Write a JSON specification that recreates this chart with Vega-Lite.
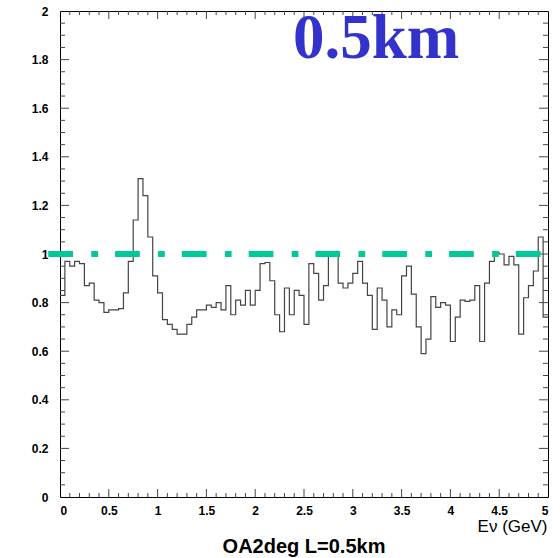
{
  "$schema": "https://vega.github.io/schema/vega-lite/v6.json",
  "width": 488,
  "height": 486,
  "autosize": {"type": "none"},
  "padding": {"left": 60, "top": 11, "right": 12, "bottom": 61},
  "background": "white",
  "config": {
    "view": {"stroke": "black", "strokeWidth": 1},
    "axis": {"grid": false, "domain": false, "labelFont": "Liberation Sans", "labelFontWeight": "bold", "labelFontSize": 12, "labelColor": "black", "titleFont": "Liberation Sans"}
  },
  "title": {"text": "OA2deg L=0.5km", "orient": "bottom", "anchor": "middle", "font": "Liberation Sans", "fontSize": 20, "fontWeight": "bold", "color": "black", "offset": 3},
  "datasets": {
    "hist": [
      {"E": 0.00, "ratio": 0.83}, {"E": 0.05, "ratio": 0.97}, {"E": 0.10, "ratio": 0.95}, {"E": 0.15, "ratio": 0.97}, {"E": 0.20, "ratio": 0.96},
      {"E": 0.25, "ratio": 0.87}, {"E": 0.30, "ratio": 0.88}, {"E": 0.35, "ratio": 0.81}, {"E": 0.40, "ratio": 0.80}, {"E": 0.45, "ratio": 0.76},
      {"E": 0.50, "ratio": 0.77}, {"E": 0.55, "ratio": 0.77}, {"E": 0.60, "ratio": 0.775}, {"E": 0.65, "ratio": 0.84}, {"E": 0.70, "ratio": 0.97},
      {"E": 0.75, "ratio": 1.14}, {"E": 0.80, "ratio": 1.31}, {"E": 0.85, "ratio": 1.24}, {"E": 0.90, "ratio": 1.07}, {"E": 0.95, "ratio": 0.91},
      {"E": 1.00, "ratio": 0.84}, {"E": 1.05, "ratio": 0.73}, {"E": 1.10, "ratio": 0.71}, {"E": 1.15, "ratio": 0.69}, {"E": 1.20, "ratio": 0.67},
      {"E": 1.25, "ratio": 0.67}, {"E": 1.30, "ratio": 0.71}, {"E": 1.35, "ratio": 0.74}, {"E": 1.40, "ratio": 0.77}, {"E": 1.45, "ratio": 0.77},
      {"E": 1.50, "ratio": 0.79}, {"E": 1.55, "ratio": 0.78}, {"E": 1.60, "ratio": 0.80}, {"E": 1.65, "ratio": 0.77}, {"E": 1.70, "ratio": 0.87},
      {"E": 1.75, "ratio": 0.75}, {"E": 1.80, "ratio": 0.81}, {"E": 1.85, "ratio": 0.79}, {"E": 1.90, "ratio": 0.85}, {"E": 1.95, "ratio": 0.79},
      {"E": 2.00, "ratio": 0.85}, {"E": 2.05, "ratio": 0.96}, {"E": 2.10, "ratio": 0.965}, {"E": 2.15, "ratio": 0.89}, {"E": 2.20, "ratio": 0.75},
      {"E": 2.25, "ratio": 0.68}, {"E": 2.30, "ratio": 0.86}, {"E": 2.35, "ratio": 0.75}, {"E": 2.40, "ratio": 0.85}, {"E": 2.45, "ratio": 0.83},
      {"E": 2.50, "ratio": 0.71}, {"E": 2.55, "ratio": 0.96}, {"E": 2.60, "ratio": 0.92}, {"E": 2.65, "ratio": 0.81}, {"E": 2.70, "ratio": 0.87},
      {"E": 2.75, "ratio": 1.0}, {"E": 2.80, "ratio": 1.0}, {"E": 2.85, "ratio": 0.88}, {"E": 2.90, "ratio": 0.86}, {"E": 2.95, "ratio": 0.88},
      {"E": 3.00, "ratio": 0.92}, {"E": 3.05, "ratio": 0.97}, {"E": 3.10, "ratio": 0.88}, {"E": 3.15, "ratio": 0.83}, {"E": 3.20, "ratio": 0.69},
      {"E": 3.25, "ratio": 0.86}, {"E": 3.30, "ratio": 0.81}, {"E": 3.35, "ratio": 0.70}, {"E": 3.40, "ratio": 0.77}, {"E": 3.45, "ratio": 0.75},
      {"E": 3.50, "ratio": 0.91}, {"E": 3.55, "ratio": 0.95}, {"E": 3.60, "ratio": 0.835}, {"E": 3.65, "ratio": 0.70}, {"E": 3.70, "ratio": 0.59},
      {"E": 3.75, "ratio": 0.65}, {"E": 3.80, "ratio": 0.825}, {"E": 3.85, "ratio": 0.78}, {"E": 3.90, "ratio": 0.80}, {"E": 3.95, "ratio": 0.79},
      {"E": 4.00, "ratio": 0.64}, {"E": 4.05, "ratio": 0.74}, {"E": 4.10, "ratio": 0.81}, {"E": 4.15, "ratio": 0.805}, {"E": 4.20, "ratio": 0.81},
      {"E": 4.25, "ratio": 0.87}, {"E": 4.30, "ratio": 0.64}, {"E": 4.35, "ratio": 0.88}, {"E": 4.40, "ratio": 0.97}, {"E": 4.45, "ratio": 1.005},
      {"E": 4.50, "ratio": 1.0}, {"E": 4.55, "ratio": 0.955}, {"E": 4.60, "ratio": 0.99}, {"E": 4.65, "ratio": 0.955}, {"E": 4.70, "ratio": 0.67},
      {"E": 4.75, "ratio": 0.82}, {"E": 4.80, "ratio": 0.87}, {"E": 4.85, "ratio": 0.93}, {"E": 4.90, "ratio": 1.07}, {"E": 4.95, "ratio": 0.74},
      {"E": 5.00, "ratio": 0.74}
    ],
    "xmaj": [{"E": 0.5}, {"E": 1}, {"E": 1.5}, {"E": 2}, {"E": 2.5}, {"E": 3}, {"E": 3.5}, {"E": 4}, {"E": 4.5}],
    "xmin": [{"E": 0.1}, {"E": 0.2}, {"E": 0.3}, {"E": 0.4}, {"E": 0.6}, {"E": 0.7}, {"E": 0.8}, {"E": 0.9},
             {"E": 1.1}, {"E": 1.2}, {"E": 1.3}, {"E": 1.4}, {"E": 1.6}, {"E": 1.7}, {"E": 1.8}, {"E": 1.9},
             {"E": 2.1}, {"E": 2.2}, {"E": 2.3}, {"E": 2.4}, {"E": 2.6}, {"E": 2.7}, {"E": 2.8}, {"E": 2.9},
             {"E": 3.1}, {"E": 3.2}, {"E": 3.3}, {"E": 3.4}, {"E": 3.6}, {"E": 3.7}, {"E": 3.8}, {"E": 3.9},
             {"E": 4.1}, {"E": 4.2}, {"E": 4.3}, {"E": 4.4}, {"E": 4.6}, {"E": 4.7}, {"E": 4.8}, {"E": 4.9}],
    "ymaj": [{"r": 0.2}, {"r": 0.4}, {"r": 0.6}, {"r": 0.8}, {"r": 1}, {"r": 1.2}, {"r": 1.4}, {"r": 1.6}, {"r": 1.8}],
    "ymin": [{"r": 0.05}, {"r": 0.1}, {"r": 0.15}, {"r": 0.25}, {"r": 0.3}, {"r": 0.35}, {"r": 0.45}, {"r": 0.5}, {"r": 0.55},
             {"r": 0.65}, {"r": 0.7}, {"r": 0.75}, {"r": 0.85}, {"r": 0.9}, {"r": 0.95}, {"r": 1.05}, {"r": 1.1}, {"r": 1.15},
             {"r": 1.25}, {"r": 1.3}, {"r": 1.35}, {"r": 1.45}, {"r": 1.5}, {"r": 1.55}, {"r": 1.65}, {"r": 1.7}, {"r": 1.75},
             {"r": 1.85}, {"r": 1.9}, {"r": 1.95}]
  },
  "layer": [
    {
      "data": {"name": "hist"},
      "mark": {"type": "line", "interpolate": "step-after", "color": "#444444", "strokeWidth": 1.2},
      "encoding": {
        "x": {"field": "E", "type": "quantitative", "scale": {"domain": [0, 5], "nice": false, "zero": false},
          "axis": {"orient": "bottom", "values": [0, 0.5, 1, 1.5, 2, 2.5, 3, 3.5, 4, 4.5, 5], "format": "~g", "ticks": false, "labelPadding": 8,
            "title": "Eν (GeV)", "titleAlign": "right", "titleAnchor": "end", "titleX": 487, "titleY": 34, "titleBaseline": "alphabetic", "titleFontSize": 17, "titleFontWeight": "normal", "titleColor": "black"}},
        "y": {"field": "ratio", "type": "quantitative", "scale": {"domain": [0, 2], "nice": false, "zero": false},
          "axis": {"orient": "left", "values": [0, 0.2, 0.4, 0.6, 0.8, 1, 1.2, 1.4, 1.6, 1.8, 2], "format": "~g", "ticks": false, "labelPadding": 12, "title": null}}
      }
    },
    {
      "data": {"name": "xmaj"},
      "mark": {"type": "tick", "orient": "vertical", "size": 8, "thickness": 1, "color": "#444444", "opacity": 1, "yOffset": -4},
      "encoding": {
        "x": {"field": "E", "type": "quantitative", "scale": {"domain": [0, 5], "nice": false, "zero": false}},
        "y": {"datum": 0, "type": "quantitative", "scale": {"domain": [0, 2], "nice": false, "zero": false}}
      }
    },
    {
      "data": {"name": "xmaj"},
      "mark": {"type": "tick", "orient": "vertical", "size": 8, "thickness": 1, "color": "#444444", "opacity": 1, "yOffset": 4},
      "encoding": {
        "x": {"field": "E", "type": "quantitative", "scale": {"domain": [0, 5], "nice": false, "zero": false}},
        "y": {"datum": 2, "type": "quantitative", "scale": {"domain": [0, 2], "nice": false, "zero": false}}
      }
    },
    {
      "data": {"name": "xmin"},
      "mark": {"type": "tick", "orient": "vertical", "size": 4, "thickness": 1, "color": "#444444", "opacity": 1, "yOffset": -2},
      "encoding": {
        "x": {"field": "E", "type": "quantitative", "scale": {"domain": [0, 5], "nice": false, "zero": false}},
        "y": {"datum": 0, "type": "quantitative", "scale": {"domain": [0, 2], "nice": false, "zero": false}}
      }
    },
    {
      "data": {"name": "xmin"},
      "mark": {"type": "tick", "orient": "vertical", "size": 4, "thickness": 1, "color": "#444444", "opacity": 1, "yOffset": 2},
      "encoding": {
        "x": {"field": "E", "type": "quantitative", "scale": {"domain": [0, 5], "nice": false, "zero": false}},
        "y": {"datum": 2, "type": "quantitative", "scale": {"domain": [0, 2], "nice": false, "zero": false}}
      }
    },
    {
      "data": {"name": "ymaj"},
      "mark": {"type": "tick", "orient": "horizontal", "size": 9, "thickness": 1, "color": "#444444", "opacity": 1, "xOffset": 4.5},
      "encoding": {
        "x": {"datum": 0, "type": "quantitative", "scale": {"domain": [0, 5], "nice": false, "zero": false}},
        "y": {"field": "r", "type": "quantitative", "scale": {"domain": [0, 2], "nice": false, "zero": false}}
      }
    },
    {
      "data": {"name": "ymaj"},
      "mark": {"type": "tick", "orient": "horizontal", "size": 9, "thickness": 1, "color": "#444444", "opacity": 1, "xOffset": -4.5},
      "encoding": {
        "x": {"datum": 5, "type": "quantitative", "scale": {"domain": [0, 5], "nice": false, "zero": false}},
        "y": {"field": "r", "type": "quantitative", "scale": {"domain": [0, 2], "nice": false, "zero": false}}
      }
    },
    {
      "data": {"name": "ymin"},
      "mark": {"type": "tick", "orient": "horizontal", "size": 5, "thickness": 1, "color": "#444444", "opacity": 1, "xOffset": 2.5},
      "encoding": {
        "x": {"datum": 0, "type": "quantitative", "scale": {"domain": [0, 5], "nice": false, "zero": false}},
        "y": {"field": "r", "type": "quantitative", "scale": {"domain": [0, 2], "nice": false, "zero": false}}
      }
    },
    {
      "data": {"name": "ymin"},
      "mark": {"type": "tick", "orient": "horizontal", "size": 5, "thickness": 1, "color": "#444444", "opacity": 1, "xOffset": -2.5},
      "encoding": {
        "x": {"datum": 5, "type": "quantitative", "scale": {"domain": [0, 5], "nice": false, "zero": false}},
        "y": {"field": "r", "type": "quantitative", "scale": {"domain": [0, 2], "nice": false, "zero": false}}
      }
    },
    {
      "data": {"values": [{}]},
      "mark": {"type": "rule", "color": "#00c896", "strokeWidth": 6, "strokeDash": [24.7, 18.3, 6.7, 17.1], "strokeCap": "butt", "clip": false},
      "encoding": {
        "x": {"datum": -0.12, "type": "quantitative", "scale": {"domain": [0, 5], "nice": false, "zero": false}},
        "x2": {"datum": 4.955},
        "y": {"datum": 1, "type": "quantitative", "scale": {"domain": [0, 2], "nice": false, "zero": false}}
      }
    },
    {
      "data": {"values": [{}]},
      "mark": {"type": "text", "font": "Liberation Serif", "fontSize": 63, "fontWeight": "bold", "color": "#3333cc", "align": "left", "baseline": "alphabetic"},
      "encoding": {
        "x": {"datum": 2.387, "type": "quantitative", "scale": {"domain": [0, 5], "nice": false, "zero": false}},
        "y": {"datum": 1.808, "type": "quantitative", "scale": {"domain": [0, 2], "nice": false, "zero": false}},
        "text": {"value": "0.5km"}
      }
    }
  ]
}
